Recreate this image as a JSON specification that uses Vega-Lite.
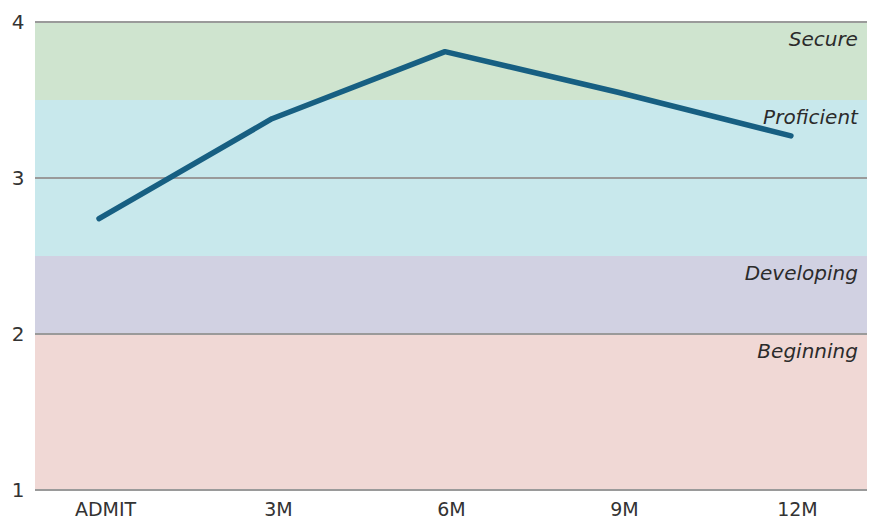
{
  "$schema": "https://vega.github.io/schema/vega-lite/v6.json",
  "width": 832,
  "height": 468,
  "autosize": {"type": "none"},
  "padding": {"left": 35, "top": 22, "right": 7, "bottom": 30},
  "background": "white",
  "config": {
    "view": {"stroke": null},
    "font": "DejaVu Sans"
  },
  "datasets": {
    "bands": [
      {"level": "Beginning", "lo": 1, "hi": 2},
      {"level": "Developing", "lo": 2, "hi": 2.5},
      {"level": "Proficient", "lo": 2.5, "hi": 3.5},
      {"level": "Secure", "lo": 3.5, "hi": 4}
    ],
    "gridlines": [
      {"v": 1}, {"v": 2}, {"v": 3}, {"v": 4}
    ],
    "scores": [
      {"period": "ADMIT", "score": 2.74},
      {"period": "3M", "score": 3.38},
      {"period": "6M", "score": 3.81},
      {"period": "9M", "score": 3.55},
      {"period": "12M", "score": 3.27}
    ]
  },
  "layer": [
    {
      "data": {"name": "bands"},
      "mark": {"type": "rect"},
      "encoding": {
        "y": {"field": "lo", "type": "quantitative", "scale": {"domain": [1, 4], "nice": false}},
        "y2": {"field": "hi"},
        "color": {
          "field": "level",
          "type": "nominal",
          "scale": {
            "domain": ["Beginning", "Developing", "Proficient", "Secure"],
            "range": ["#f0d8d5", "#d1d1e2", "#c8e8ec", "#cfe4cf"]
          },
          "legend": null
        }
      }
    },
    {
      "data": {"name": "gridlines"},
      "mark": {"type": "rule", "color": "#9a9a9a", "strokeWidth": 2},
      "encoding": {
        "y": {"field": "v", "type": "quantitative"}
      }
    },
    {
      "data": {"name": "bands"},
      "mark": {
        "type": "text",
        "align": "right",
        "baseline": "middle",
        "fontStyle": "italic",
        "fontSize": 20,
        "color": "#2b2b2b",
        "dx": 67,
        "dy": 18
      },
      "encoding": {
        "x": {"datum": "12M", "type": "ordinal"},
        "y": {"field": "hi", "type": "quantitative"},
        "text": {"field": "level"}
      }
    },
    {
      "data": {"name": "scores"},
      "mark": {"type": "line", "color": "#175f82", "strokeWidth": 5.5, "strokeCap": "round", "strokeJoin": "round"},
      "encoding": {
        "x": {
          "field": "period",
          "type": "ordinal",
          "sort": ["ADMIT", "3M", "6M", "9M", "12M"],
          "scale": {"type": "point", "padding": 0.405, "align": 0.457},
          "axis": {
            "title": null,
            "domain": false,
            "ticks": false,
            "grid": false,
            "labelAngle": 0,
            "labelAlign": "center",
            "labelFlush": false,
            "labelFontSize": 19,
            "labelColor": "#333333",
            "labelPadding": 19,
            "labelOffset": 6
          }
        },
        "y": {
          "field": "score",
          "type": "quantitative",
          "scale": {"domain": [1, 4], "nice": false},
          "axis": {
            "title": null,
            "values": [1, 2, 3, 4],
            "format": "d",
            "domain": false,
            "ticks": false,
            "grid": false,
            "labelFontSize": 20,
            "labelColor": "#333333",
            "labelPadding": 11
          }
        }
      }
    }
  ]
}
